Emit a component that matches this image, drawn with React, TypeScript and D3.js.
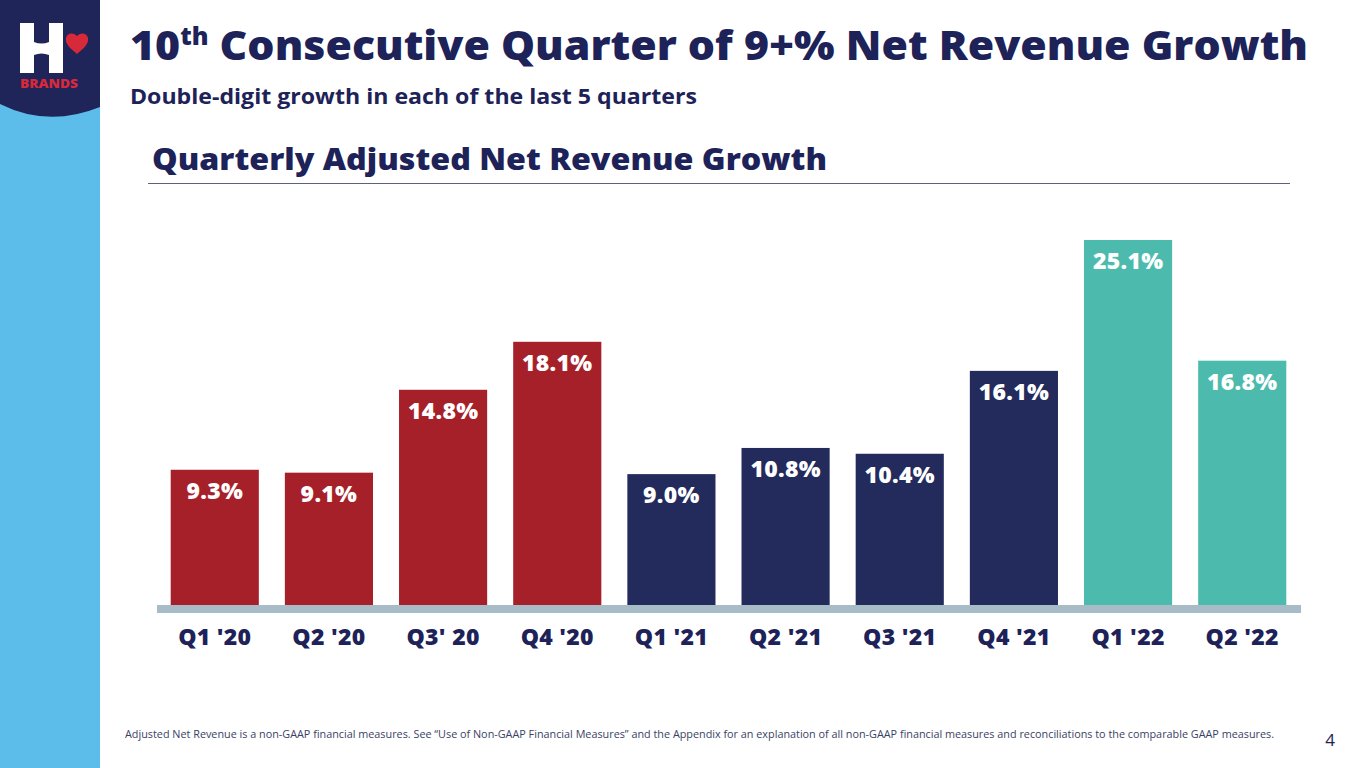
import * as d3 from "d3";
import React, { useEffect, useRef } from "react";

const quarters = ["Q1 '20", "Q2 '20", "Q3' 20", "Q4 '20", "Q1 '21", "Q2 '21", "Q3 '21", "Q4 '21", "Q1 '22", "Q2 '22"];
const growth = [9.3, 9.1, 14.8, 18.1, 9.0, 10.8, 10.4, 16.1, 25.1, 16.8];
const years = ["2020", "2020", "2020", "2020", "2021", "2021", "2021", "2021", "2022", "2022"];

const NAVY = "#1d2258";
const FONT = "'Open Sans', Lato, sans-serif";

const App: React.FC = () => {
  const svgRef = useRef<SVGSVGElement>(null);

  useEffect(() => {
    document.body.style.margin = "0";
    if (!svgRef.current) return;
    const width = 1365;
    const height = 768;
    const svg = d3.select(svgRef.current);
    svg.selectAll("*").remove();
    svg.attr("width", width).attr("height", height).style("display", "block").style("background", "#ffffff");

    // Left stripe + logo
    svg.append("rect").attr("x", 0).attr("y", 0).attr("width", 100).attr("height", height).attr("fill", "#5cbdeb");
    svg.append("path").attr("d", "M0,0 H100 V107 Q48,128 0,104 Z").attr("fill", "#1f2459");
    const logo = svg.append("g");
    logo.append("path")
      .attr("d", "M20,23 H34 V42 Q41.5,45 49,42 V23 H63 V73 H49 V55 Q41.5,52 34,55 V73 H20 Z")
      .attr("fill", "#ffffff");
    logo.append("path")
      .attr("d", "M77,54 C70,48 65,44 66,38 C67,33 73,32 77,36 C81,32 87,33 88,38 C89,44 84,48 77,54 Z")
      .attr("fill", "#d8293b");
    logo.append("text").attr("x", 49).attr("y", 88).attr("text-anchor", "middle")
      .attr("font-family", FONT).attr("font-weight", 800).attr("font-size", 12.5)
      .attr("fill", "#d8293b").attr("textLength", 58).attr("lengthAdjust", "spacingAndGlyphs").text("BRANDS");

    // Titles
    const title = svg.append("text").attr("x", 130).attr("y", 60)
      .attr("font-family", FONT).attr("font-weight", 800).attr("font-size", 41).attr("fill", NAVY);
    title.append("tspan").text("10");
    title.append("tspan").attr("font-size", 24).attr("dy", -15).text("th");
    title.append("tspan").attr("dy", 15).text(" Consecutive Quarter of 9+% Net Revenue Growth");
    title.attr("textLength", 1178).attr("lengthAdjust", "spacingAndGlyphs");

    svg.append("text").attr("x", 130).attr("y", 104)
      .attr("font-family", FONT).attr("font-weight", 700).attr("font-size", 21).attr("fill", NAVY)
      .attr("textLength", 567).attr("lengthAdjust", "spacingAndGlyphs")
      .text("Double-digit growth in each of the last 5 quarters");

    svg.append("text").attr("x", 152).attr("y", 170)
      .attr("font-family", FONT).attr("font-weight", 800).attr("font-size", 30).attr("fill", NAVY)
      .attr("textLength", 675).attr("lengthAdjust", "spacingAndGlyphs")
      .text("Quarterly Adjusted Net Revenue Growth");
    svg.append("line").attr("x1", 148).attr("x2", 1290).attr("y1", 183.5).attr("y2", 183.5)
      .attr("stroke", "#5d6080").attr("stroke-width", 1);

    // Chart
    const x = d3.scaleBand().domain(quarters).range([157, 1300]).paddingInner(0.228).paddingOuter(0.12);
    const y = d3.scaleLinear().domain([0, 25.1]).range([605, 240]);
    const color = d3.scaleOrdinal<string, string>().domain(["2020", "2021", "2022"]).range(["#a6202a", "#232a5c", "#4cbbad"]);

    const data = quarters.map((q, i) => ({ q, v: growth[i], yr: years[i] }));

    svg.append("g").selectAll("rect").data(data).join("rect")
      .attr("x", (d) => x(d.q) || 0)
      .attr("y", (d) => y(d.v))
      .attr("width", x.bandwidth())
      .attr("height", (d) => y(0) - y(d.v))
      .attr("fill", (d) => color(d.yr));

    svg.append("g").selectAll("text").data(data).join("text")
      .attr("x", (d) => (x(d.q) || 0) + x.bandwidth() / 2)
      .attr("y", (d) => y(d.v) + 29)
      .attr("text-anchor", "middle")
      .attr("font-family", FONT).attr("font-weight", 800).attr("font-size", 23).attr("fill", "#ffffff")
      .attr("letter-spacing", 0.3)
      .text((d) => `${d.v.toFixed(1)}%`);

    // axis band
    svg.append("rect").attr("x", 157).attr("y", 605).attr("width", 1144).attr("height", 8).attr("fill", "#a8bcc8");

    const xAxis = svg.append("g").attr("transform", "translate(0,613)")
      .call(d3.axisBottom(x).tickSize(0).tickPadding(0));
    xAxis.select(".domain").remove();
    xAxis.selectAll("text")
      .attr("dy", 0).attr("y", 32)
      .attr("font-family", FONT).attr("font-weight", 800).attr("font-size", 23).attr("fill", NAVY)
      .attr("letter-spacing", 0.3);

    // Footnote + page number
    svg.append("text").attr("x", 125).attr("y", 738)
      .attr("font-family", FONT).attr("font-size", 10.5).attr("fill", "#3a3f66")
      .attr("textLength", 1149).attr("lengthAdjust", "spacingAndGlyphs")
      .text("Adjusted Net Revenue is a non-GAAP financial measures. See \u201CUse of Non-GAAP Financial Measures\u201D and the Appendix for an explanation of all non-GAAP financial measures and reconciliations to the comparable GAAP measures.");
    svg.append("text").attr("x", 1330).attr("y", 746).attr("text-anchor", "middle")
      .attr("font-family", FONT).attr("font-size", 17).attr("fill", NAVY).text("4");
  }, []);

  return <svg ref={svgRef} />;
};

export default App;
